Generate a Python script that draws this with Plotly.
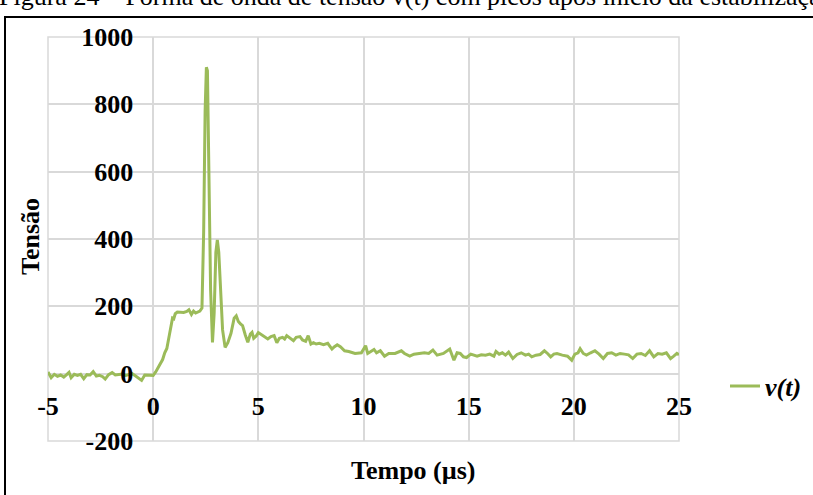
import plotly.graph_objects as go

# Time (µs) and voltage values
tempo_us = [
    -5.0, -4.85, -4.7, -4.55, -4.4, -4.25, -4.1, -4.0, -3.9, -3.75, -3.6, -3.45, -3.3, -3.15, -3.0,
    -2.85, -2.7, -2.55, -2.4, -2.28, -2.12, -1.95, -1.8, -1.6, -1.45, -1.3, -1.15, -1.0, -0.85, -0.7,
    -0.55, -0.4, -0.2, 0.0, 0.12, 0.25, 0.35, 0.45, 0.55, 0.65, 0.75, 0.85, 0.92, 0.98, 1.05, 1.15,
    1.3, 1.45, 1.6, 1.7, 1.82, 1.92, 2.02, 2.12, 2.22, 2.32, 2.4, 2.47, 2.53, 2.58, 2.65, 2.73, 2.82,
    2.9, 2.98, 3.05, 3.12, 3.2, 3.3, 3.42, 3.55, 3.7, 3.85, 3.95, 4.05, 4.15, 4.25, 4.38, 4.5, 4.62,
    4.7, 4.78, 4.9, 5.0, 5.15, 5.3, 5.45, 5.6, 5.75, 5.88, 6.0, 6.15, 6.25, 6.35, 6.5, 6.67, 6.8, 6.98,
    7.1, 7.25, 7.37, 7.5, 7.62, 7.75, 7.9, 8.1, 8.3, 8.5, 8.62, 8.75, 8.9, 9.1, 9.3, 9.6, 9.9, 10.1,
    10.2, 10.35, 10.5, 10.62, 10.8, 11.0, 11.2, 11.5, 11.65, 11.8, 11.95, 12.2, 12.4, 12.6, 12.9, 13.1,
    13.3, 13.5, 13.8, 14.1, 14.2, 14.3, 14.45, 14.6, 14.75, 14.9, 15.1, 15.4, 15.6, 15.8, 16.0, 16.2,
    16.3, 16.45, 16.6, 16.75, 16.9, 17.1, 17.3, 17.5, 17.7, 17.85, 18.0, 18.2, 18.4, 18.6, 18.75, 18.9,
    19.05, 19.2, 19.45, 19.7, 19.9, 20.05, 20.2, 20.3, 20.45, 20.6, 20.8, 21.0, 21.2, 21.4, 21.6, 21.8,
    22.0, 22.2, 22.4, 22.6, 22.8, 23.0, 23.2, 23.4, 23.6, 23.8, 24.0, 24.2, 24.4, 24.6, 24.75, 24.9, 25.0,
]
tensao_v = [
    5, -12, -2, -8, -4, -10, -2, 4, -12, -2, -5, -2, -15, -3, -4,
    6, -7, -5, -9, -16, -3, 3, -4, -3, -1, -5, -2, 0, -6, -12,
    -20, -4, -4, -5, 5, 20, 35, 42, 62, 75, 108, 140, 165, 163, 178, 183,
    182, 182, 185, 190, 176, 186, 180, 182, 186, 195, 420, 780, 910, 900, 600, 250, 93,
    180, 360, 397, 360, 240, 130, 78, 92, 120, 165, 172, 155, 148, 143, 115, 93, 118,
    123, 105, 112, 122, 115, 108, 103, 110, 113, 92, 105, 108, 103, 113, 106, 98, 108, 110,
    100, 96, 113, 88, 92, 88, 90, 86, 90, 73, 80, 86, 80, 68, 66, 60, 62, 83,
    60, 65, 72, 62, 68, 52, 60, 60, 64, 68, 60, 52, 58, 60, 62, 60,
    70, 55, 60, 73, 55, 40, 62, 60, 50, 48, 58, 52, 56, 55, 58, 52,
    66, 58, 62, 55, 64, 45, 57, 62, 55, 58, 50, 55, 57, 68, 60, 50,
    58, 60, 55, 52, 40, 58, 62, 74, 60, 55, 62, 68, 58, 45, 60, 62,
    55, 60, 58, 56, 45, 58, 60, 54, 68, 50, 60, 58, 62, 45, 52, 60, 56,
]

x_ticks = [-5, 0, 5, 10, 15, 20, 25]
y_ticks = [-200, 0, 200, 400, 600, 800, 1000]

series_name = "<b><i>v(t)</i></b>"
x_title = "Tempo (µs)"
y_title = "Tensão"
caption = "Figura 24 – Forma de onda de tensão v(t) com picos após início da estabilização"

FONT = "Liberation Serif, Times New Roman, serif"
GRID = "#d9d9d9"
GREEN = "#9BBB59"

# plot area on screen: x 48..679, y 37..441 (page body margin removed below)
PL, PR, PT, PB = 48, 679, 37, 441
W, H = 813, 495
L, T = PL, PT
PW, PH = PR - PL, PB - PT
R = W - L - PW
B = H - T - PH


def fx(px):
    return (px - PL) / PW


def fy(py):
    return (PB - py) / PH


fig = go.Figure()
fig.add_trace(go.Scatter(
    x=tempo_us, y=tensao_v, mode="lines", name=series_name,
    line=dict(color=GREEN, width=3),
))

fig.update_layout(
    width=W, height=H,
    margin=dict(l=L, r=R, t=T, b=B, autoexpand=False),
    paper_bgcolor="white", plot_bgcolor="white",
    font=dict(family=FONT, size=26, color="black"),
    showlegend=True,
    legend=dict(
        x=fx(725), y=fy(386), xanchor="left", yanchor="middle",
        bgcolor="rgba(0,0,0,0)", font=dict(family=FONT, size=26, color="black"),
        itemwidth=30,
    ),
    xaxis=dict(
        range=[-5, 25], tickvals=x_ticks, ticktext=[str(v) for v in x_ticks],
        showgrid=True, gridcolor=GRID, gridwidth=1.5,
        zeroline=False, showline=False, automargin=False,
        anchor="free", position=200 / 1200,
        ticks="", ticklabelstandoff=14,
        tickfont=dict(family=FONT, size=26, color="black", weight="bold"),
    ),
    yaxis=dict(
        range=[-200, 1000], tickvals=y_ticks, ticktext=[str(v) for v in y_ticks],
        showgrid=True, gridcolor=GRID, gridwidth=1.5,
        zeroline=False, showline=False, automargin=False,
        anchor="free", position=5 / 30,
        ticks="", ticklabelstandoff=20,
        tickfont=dict(family=FONT, size=26, color="black", weight="bold"),
    ),
    shapes=[
        dict(type="rect", xref="paper", yref="paper", x0=0, x1=1, y0=0, y1=1,
             line=dict(color=GRID, width=1.5), layer="below"),
        dict(type="rect", xref="paper", yref="paper", x0=fx(5), x1=fx(840), y0=fy(540), y1=fy(17),
             line=dict(color="black", width=2)),
    ],
    annotations=[
        dict(text=f"<b>{x_title}</b>", xref="paper", yref="paper", x=fx(414), y=fy(470),
             xanchor="center", yanchor="middle", showarrow=False,
             font=dict(family=FONT, size=26, color="black")),
        dict(text=f"<b>{y_title}</b>", xref="paper", yref="paper", x=fx(30), y=fy(237),
             xanchor="center", yanchor="middle", showarrow=False, textangle=-90,
             font=dict(family=FONT, size=26, color="black")),
        dict(text=caption, xref="paper", yref="paper", x=fx(-3), y=fy(13),
             xanchor="left", yanchor="bottom", showarrow=False,
             font=dict(family=FONT, size=26, color="black")),
    ],
)

fig.write_html("out.html", config={"displayModeBar": False},
               post_script="document.body.style.margin='0px';")
